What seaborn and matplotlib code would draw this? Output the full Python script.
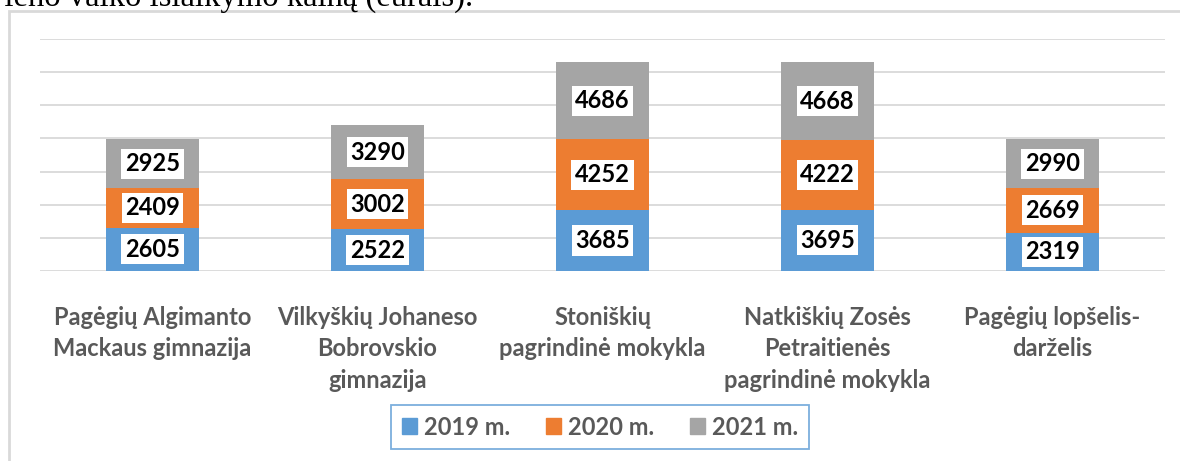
import numpy as np
import pandas as pd
import seaborn as sns
import matplotlib.pyplot as plt
from matplotlib.patches import Patch, Rectangle

schools = ["Pagėgių Algimanto\nMackaus gimnazija",
           "Vilkyškių Johaneso\nBobrovskio\ngimnazija",
           "Stoniškių\npagrindinė mokykla",
           "Natkiškių Zosės\nPetraitienės\npagrindinė mokykla",
           "Pagėgių lopšelis-\ndarželis"]
years = ["2019 m.", "2020 m.", "2021 m."]
v2019 = [2605, 2522, 3685, 3695, 2319]
v2020 = [2409, 3002, 4252, 4222, 2669]
v2021 = [2925, 3290, 4686, 4668, 2990]
colors = ["#5B9BD5", "#ED7D31", "#A5A5A5"]

sns.set_style("white")
plt.rcParams['font.family'] = ['Lato', 'DejaVu Sans']

fig = plt.figure(figsize=(11.8, 4.61), dpi=100)
ax = fig.add_axes([40 / 1180, 1 - 271 / 461, 1125 / 1180, 232 / 461])

bottom = np.zeros(len(schools))
for vals, col in zip([v2019, v2020, v2021], colors):
    df = pd.DataFrame({"school": schools, "value": vals})
    sns.barplot(data=df, x="school", y="value", color=col, width=0.41,
                bottom=bottom, saturation=1, ax=ax, linewidth=0)
    for i, v in enumerate(vals):
        ax.text(i, bottom[i] + v / 2, str(v), ha="center", va="center",
                fontsize=17, fontweight="bold", color="black",
                bbox=dict(facecolor="white", edgecolor="none", boxstyle="square,pad=0.15"))
    bottom = bottom + np.array(vals)

ax.set_ylim(0, 14000)
ax.set_yticks(np.arange(0, 14001, 2000))
ax.set_yticklabels([])
ax.yaxis.grid(True, color="#D9D9D9", linewidth=1.3)
ax.set_axisbelow(True)
ax.set_xlim(-0.5, 4.5)
ax.set_xlabel("")
ax.set_ylabel("")
for s in ax.spines.values():
    s.set_visible(False)
ax.tick_params(axis="both", length=0)
ax.tick_params(axis="x", pad=25)
for lbl in ax.get_xticklabels():
    lbl.set_fontsize(17)
    lbl.set_fontweight("bold")
    lbl.set_color("#595959")
    lbl.set_linespacing(1.45)
    lbl.set_verticalalignment("top")

handles = [Patch(color=c, label=y) for c, y in zip(colors, years)]
leg = fig.legend(handles=handles, loc="center", bbox_to_anchor=(600 / 1180, 1 - 427 / 461),
                 ncol=3, frameon=True, fancybox=False, fontsize=17,
                 handlelength=0.65, handleheight=0.65, handletextpad=0.3,
                 columnspacing=1.5, borderpad=0.45, borderaxespad=0)
leg.get_frame().set_edgecolor("#5B9BD5")
leg.get_frame().set_linewidth(1.3)
for t in leg.get_texts():
    t.set_fontweight("bold")
    t.set_color("#595959")

# outer chart frame (right and bottom edges are cut off)
fig.patches.append(Rectangle((9 / 1180, -0.1), 1.2, 1 - 11 / 461 + 0.1, transform=fig.transFigure,
                             fill=False, edgecolor="#D9D9D9", linewidth=2))

fig.text(-12 / 1180, 1 - 6 / 461, "vieno vaiko išlaikymo kainą (eurais).", family="Liberation Serif",
         fontsize=23.5, va="baseline", ha="left", color="black")

fig.savefig("out.png", dpi=100)
